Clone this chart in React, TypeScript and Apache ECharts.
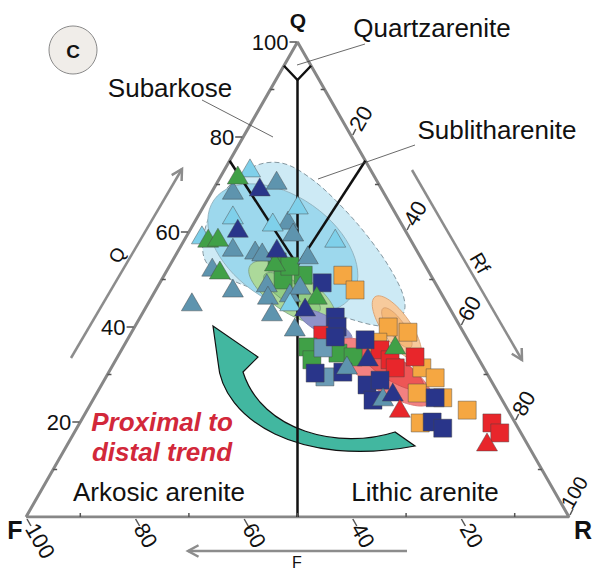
import React, { useEffect, useRef } from "react";
import * as echarts from "echarts";

// Composition of each sample: [Q, F, R] in percent
type Comp = [number, number, number];

const lightBlueTriangles: Comp[] = [
  [73.5, 22.0, 4.5], [63.6, 30.1, 6.3], [59.4, 37.9, 2.7], [62.1, 23.5, 14.4],
  [65.7, 17.1, 17.2], [58.7, 13.7, 27.6], [45.3, 28.7, 26.0],
];
const steelBlueTriangles: Comp[] = [
  [70.9, 18.4, 10.7], [68.8, 27.5, 3.7], [62.5, 20.5, 17.0], [60.0, 20.8, 19.2],
  [56.2, 29.7, 14.1], [55.8, 28.6, 15.6], [56.8, 33.5, 9.7], [55.2, 20.5, 24.3],
  [52.6, 39.4, 8.0], [48.2, 37.8, 14.0], [45.3, 46.8, 7.9], [49.3, 31.0, 19.7],
  [46.7, 32.1, 21.2], [43.2, 33.1, 23.7], [47.2, 27.8, 25.0], [48.8, 25.1, 26.1],
  [40.0, 30.5, 29.5], [32.0, 24.9, 43.1], [25.3, 21.6, 53.1],
];
const navyTriangles: Comp[] = [
  [69.5, 22.2, 8.3], [60.8, 30.6, 8.6], [56.6, 25.5, 17.9], [44.2, 26.5, 29.3],
  [33.7, 20.2, 46.1], [26.3, 19.3, 54.4],
];
const greenTriangles: Comp[] = [
  [72.0, 25.0, 3.0], [58.7, 37.1, 4.2], [58.9, 35.2, 5.9], [52.0, 38.3, 9.7],
  [46.7, 23.1, 30.2], [36.2, 13.9, 49.9], [53.7, 27.3, 19.0],
];
const redTriangles: Comp[] = [
  [22.9, 19.7, 57.4], [15.8, 7.2, 77.0],
];
const orangeSquares: Comp[] = [
  [50.9, 16.2, 32.9], [47.8, 15.5, 36.7], [40.0, 13.3, 46.7], [38.9, 10.2, 50.9],
  [31.4, 11.4, 57.2], [29.3, 10.0, 60.7], [26.1, 14.9, 59.0], [25.1, 10.7, 64.2],
  [22.5, 7.5, 70.0], [19.8, 17.5, 62.7], [36.8, 16.8, 46.4],
];
const redSquares: Comp[] = [
  [35.2, 17.2, 47.6], [33.1, 16.4, 50.5], [31.4, 16.3, 52.3], [33.7, 11.5, 54.8],
  [38.3, 26.2, 35.5], [19.8, 4.3, 75.9], [17.7, 3.9, 78.4],
];
const greenSquares: Comp[] = [
  [53.7, 26.9, 19.4], [49.9, 27.7, 22.4], [50.9, 23.5, 25.6], [52.8, 25.0, 22.2],
  [35.8, 30.2, 34.0], [33.1, 30.8, 36.1], [34.5, 25.3, 40.2], [33.7, 22.9, 43.4],
];
const steelBlueSquares: Comp[] = [
  [35.6, 27.5, 36.9], [29.5, 30.2, 40.3],
];
const navySquares: Comp[] = [
  [49.3, 20.8, 29.9], [42.1, 22.0, 35.9], [40.0, 22.7, 37.3], [37.9, 24.1, 38.0],
  [37.3, 18.9, 43.8], [30.3, 31.6, 38.1], [30.5, 26.4, 43.1], [27.8, 23.3, 48.9],
  [28.8, 20.4, 50.8], [24.6, 23.8, 51.6], [25.1, 12.1, 62.8], [20.0, 15.2, 64.8],
  [18.7, 13.9, 67.4],
];

// outline of the large (dashed) field, in composition
const outerField: Comp[] = [
  [58.7, 38.0, 3.3], [64.6, 33.4, 2.0], [69.9, 27.5, 2.6], [73.9, 20.9, 5.2],
  [74.5, 15.6, 9.9], [71.4, 12.0, 16.6], [65.7, 9.3, 25.0], [58.3, 7.4, 34.3],
  [50.3, 6.8, 42.9], [44.6, 7.9, 47.5], [41.1, 11.0, 47.9], [40.2, 14.7, 45.1],
  [42.3, 21.0, 36.7], [44.6, 27.2, 28.2], [47.4, 32.8, 19.8], [50.3, 37.7, 12.0],
  [53.7, 40.0, 6.3],
];
// centres of the confidence fields
const fieldCentres: Comp[] = [
  [56.6, 24.4, 19.0], // blue
  [47.2, 27.4, 25.4], // green
  [47.2, 27.4, 25.4], // green core
  [40.4, 24.7, 34.9], // purple
  [39.8, 11.8, 48.4], // orange
  [39.8, 11.8, 48.4], // orange core
  [30.5, 18.6, 50.9], // red
  [31.5, 17.0, 51.5], // red core
];

// frame and classification boundaries
const frameVertices: Comp[] = [[0, 100, 0], [0, 0, 100], [100, 0, 0], [0, 100, 0]];
const quartzLine: Comp[] = [[95, 5, 0], [92, 4, 4], [95, 0, 5]];
const centreLine: Comp[] = [[92, 4, 4], [0, 50, 50]];
const subarkoseLine: Comp[] = [[75, 25, 0], [53, 23.5, 23.5]];
const sublithLine: Comp[] = [[75, 0, 25], [53, 23.5, 23.5]];

const majorTicks = [20, 40, 60, 80, 100];
const minorTicks = [10, 30, 50, 70, 90];

const toXY = (c: Comp) => [c[2] + c[0] / 2, c[0]];

const FONT = "'Liberation Sans', Arial, Helvetica, sans-serif";

const trendArrowPath =
  "M395 432 C340 450 262 432 243 372 L258 357 L213 326 L218 362 C222 420 300 468 415 446 Z";
echarts.graphic.registerShape("trendArrow", echarts.graphic.extendPath(trendArrowPath, {}));

const fieldShapes = [
  { a: 84, b: 52, angle: 35, fill: "#9dd8ed", stroke: "#8fb0bc" },
  { a: 50, b: 20, angle: 33, fill: "#acd99a", stroke: "#7fa487" },
  { a: 33, b: 11, angle: 33, fill: "#93cd84", stroke: "#6f9c72" },
  { a: 30, b: 9, angle: 28, fill: "#8e93c9", stroke: "#7b7fae" },
  { a: 38, b: 14, angle: 55, fill: "#f7ca9c", stroke: "#d9a070" },
  { a: 24, b: 8, angle: 55, fill: "#f5b979", stroke: "#d9a070" },
  { a: 55, b: 19, angle: 33, fill: "#f38181", stroke: "#d97070" },
  { a: 38, b: 12, angle: 33, fill: "#ee5656", stroke: "#cc5050" },
];

export default function App() {
  const ref = useRef<HTMLDivElement>(null);
  useEffect(() => {
    const chart = echarts.init(ref.current!, null, { renderer: "svg" });

    const scatter = (name: string, data: Comp[], symbol: string, color: string, size: any, z: number) => ({
      type: "scatter",
      name,
      data: data.map(toXY),
      symbol,
      symbolSize: size,
      silent: true,
      z,
      itemStyle: { color, borderColor: "rgba(70,70,70,0.75)", borderWidth: 0.6, opacity: 1 },
    });
    const boundary = (data: Comp[], color: string, width: number) => ({
      type: "line",
      data: data.map(toXY),
      symbol: "none",
      silent: true,
      z: 3,
      lineStyle: { color, width },
    });

    chart.setOption({
      animation: false,
      grid: { left: 26, right: 25, top: 42, bottom: 57 },
      xAxis: { type: "value", min: 0, max: 100, show: false },
      yAxis: { type: "value", min: 0, max: 100, show: false },
      series: [
        {
          type: "custom",
          z: 1,
          silent: true,
          data: [[0, 0]],
          renderItem: (_p: any, api: any) => ({
            type: "polygon",
            shape: { points: outerField.map((c) => api.coord(toXY(c))), smooth: 0.35 },
            style: { fill: "#cdeaf5", stroke: "#8497a0", lineWidth: 1, lineDash: [5, 3] },
          }),
        },
        {
          type: "custom",
          z: 1,
          silent: true,
          data: fieldCentres.map(toXY),
          renderItem: (params: any, api: any) => {
            const s = fieldShapes[params.dataIndex];
            const c = api.coord([api.value(0), api.value(1)]);
            return {
              type: "ellipse",
              x: c[0],
              y: c[1],
              rotation: (-s.angle * Math.PI) / 180,
              shape: { cx: 0, cy: 0, rx: s.a, ry: s.b },
              style: { fill: s.fill, stroke: s.stroke, lineWidth: 0.8 },
            };
          },
        },
        boundary(frameVertices, "#878787", 3),
        boundary(quartzLine, "#111", 2.5),
        boundary(centreLine, "#111", 2.5),
        boundary(subarkoseLine, "#111", 2.5),
        boundary(sublithLine, "#111", 2.5),
        scatter("orange sq", orangeSquares, "rect", "#f5a742", 18, 5),
        scatter("red sq", redSquares, "rect", "#e8262b", 18, 5),
        scatter("green sq", greenSquares, "rect", "#40a047", 18, 5),
        scatter("steel sq", steelBlueSquares, "rect", "#6a9bb5", 18, 5),
        scatter("navy sq", navySquares, "rect", "#29358a", 18, 5),
        scatter("steel tri", steelBlueTriangles, "triangle", "#5e94ae", [21, 18], 6),
        scatter("light tri", lightBlueTriangles, "triangle", "#7fd0ea", [21, 18], 6),
        scatter("green tri", greenTriangles, "triangle", "#40a047", [21, 18], 6),
        scatter("navy tri", navyTriangles, "triangle", "#29358a", [21, 18], 6),
        scatter("red tri", redTriangles, "triangle", "#e8262b", [21, 18], 6),
      ],
    });

    const px = (c: Comp) => chart.convertToPixel({ gridIndex: 0 }, toXY(c)) as number[];
    const G: any[] = [];
    const tickStyle = { stroke: "#555", lineWidth: 1.5 };
    const label = (text: string, x: number, y: number, rotation: number, align: string, size = 22) => ({
      type: "text",
      x,
      y,
      rotation,
      silent: true,
      z: 10,
      style: { text, fontSize: size, fontFamily: FONT, fill: "#111", align, verticalAlign: "middle" },
    });
    const seg = (x1: number, y1: number, x2: number, y2: number, style: any, z = 10) => ({
      type: "line",
      silent: true,
      z,
      shape: { x1, y1, x2, y2 },
      style,
    });

    majorTicks.forEach((v) => {
      const l = px([v, 100 - v, 0]);
      G.push(label(String(v), l[0] - 9, l[1], 0, "right"));
      G.push(seg(l[0] - 8, l[1], l[0] - 1, l[1], tickStyle));
      const b = px([0, v, 100 - v]);
      G.push(label(String(v), b[0] + 5, b[1] + 8, -Math.PI / 3, "left"));
      G.push(seg(b[0] + 1, b[1] + 2, b[0] + 5, b[1] + 9, tickStyle));
      const r = px([100 - v, 0, v]);
      if (v === 100) {
        G.push(label(String(v), r[0] - 3, r[1] - 10, Math.PI / 3, "left", 20));
      } else {
        G.push(label(String(v), r[0] + 3, r[1] - 8, Math.PI / 3, "left"));
      }
      G.push(seg(r[0] + 1, r[1] - 2, r[0] + 4, r[1] - 8, tickStyle));
    });
    minorTicks.forEach((v) => {
      const l = px([v, 100 - v, 0]);
      G.push(seg(l[0], l[1], l[0] + 4, l[1], tickStyle));
      const b = px([0, v, 100 - v]);
      G.push(seg(b[0], b[1], b[0], b[1] - 4, tickStyle));
      const r = px([100 - v, 0, v]);
      G.push(seg(r[0], r[1], r[0] - 4, r[1], tickStyle));
    });

    // gray direction arrows
    const grayStyle = { stroke: "#8c8c8c", lineWidth: 2.5 };
    const arrow = (x1: number, y1: number, x2: number, y2: number) => {
      const L = Math.hypot(x2 - x1, y2 - y1);
      const ux = (x2 - x1) / L;
      const uy = (y2 - y1) / L;
      const arm = (a: number) => [
        x2 - 12 * (ux * Math.cos(a) - uy * Math.sin(a)),
        y2 - 12 * (ux * Math.sin(a) + uy * Math.cos(a)),
      ];
      G.push(seg(x1, y1, x2, y2, grayStyle, 4));
      G.push({
        type: "polyline",
        silent: true,
        z: 4,
        shape: { points: [arm(0.5), [x2, y2], arm(-0.5)] },
        style: { ...grayStyle, fill: null },
      });
    };
    arrow(71, 358, 182, 169);
    arrow(412, 170, 522, 360);
    arrow(407, 551, 188, 551);
    G.push(label("Q", 117, 255, Math.PI / 3, "center", 19));
    G.push(label("Rf", 480, 263, -Math.PI / 3, "center", 20));
    G.push(label("F", 297, 562, 0, "center", 16));

    // apex letters
    const bold = (text: string, x: number, y: number, size: number) => ({
      type: "text",
      x,
      y,
      silent: true,
      z: 10,
      style: { text, fontSize: size, fontWeight: "bold", fontFamily: FONT, fill: "#111", align: "center", verticalAlign: "middle" },
    });
    G.push(bold("Q", 298, 20, 21));
    G.push(bold("F", 15, 530, 25));
    G.push(bold("R", 583, 530, 25));

    // panel badge
    G.push({
      type: "circle",
      silent: true,
      z: 10,
      shape: { cx: 73, cy: 50, r: 24 },
      style: { fill: "#f0ede9", stroke: "#8a8a8a", lineWidth: 1 },
    });
    G.push(bold("C", 73, 51, 19));

    // field names + leaders
    const leader = { stroke: "#444", lineWidth: 0.8 };
    G.push(label("Subarkose", 170, 88, 0, "center", 26));
    G.push(seg(202, 100, 273, 137, leader));
    G.push(label("Quartzarenite", 432, 28, 0, "center", 26));
    G.push(seg(365, 44, 297, 65, leader));
    G.push(label("Sublitharenite", 497, 130, 0, "center", 26));
    G.push(seg(415, 145, 318, 179, leader));
    G.push(label("Arkosic arenite", 159, 492, 0, "center", 26));
    G.push(label("Lithic arenite", 425, 492, 0, "center", 26));

    const red = (text: string, y: number) => ({
      type: "text",
      x: 162,
      y,
      silent: true,
      z: 10,
      style: {
        text,
        fontSize: 26,
        fontWeight: "bold",
        fontStyle: "italic",
        fontFamily: FONT,
        fill: "#d2283a",
        align: "center",
        verticalAlign: "middle",
      },
    });
    G.push(red("Proximal to", 422));
    G.push(red("distal trend", 452));

    // trend arrow
    G.push({
      type: "trendArrow",
      x: 0,
      y: 0,
      silent: true,
      z: 1,
      style: { fill: "#42b7a0", stroke: "#111", lineWidth: 1.2 },
    });

    chart.setOption({ graphic: G });
    return () => chart.dispose();
  }, []);
  return (
    <div
      ref={ref}
      style={{ position: "fixed", left: 0, top: 0, width: 594, height: 574, background: "#fff" }}
    />
  );
}
